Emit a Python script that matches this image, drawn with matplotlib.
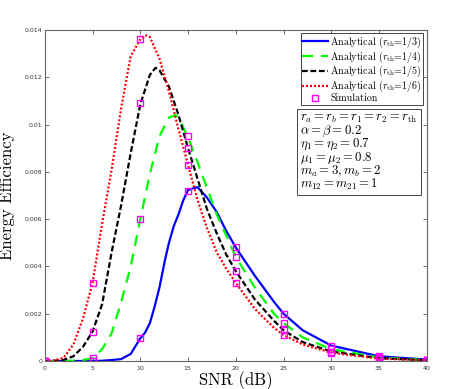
import matplotlib
matplotlib.use('Agg')
import matplotlib.pyplot as plt
import numpy as np

plt.rcParams['mathtext.fontset'] = 'cm'
plt.rcParams['axes.formatter.use_mathtext'] = True

# analytical curves
x_13 = [0, 5, 6, 7, 8, 9, 10, 10.5, 11, 11.5, 12, 12.6, 13, 13.5, 14, 14.5, 15, 15.5, 16, 17, 18,
        19, 20, 22, 24, 25, 27, 30, 35, 40]
y_13 = [0, 0, 0.00001, 0.00004, 0.00008, 0.0003, 0.00096, 0.0012, 0.0016, 0.0023, 0.0031, 0.0043,
        0.0050, 0.0057, 0.0062, 0.0068, 0.00723, 0.0073, 0.00735, 0.0069, 0.0063, 0.0055, 0.0048,
        0.0036, 0.0025, 0.0020, 0.0013, 0.00065, 0.0002, 0.00006]

x_14 = [0, 2, 3, 4, 5, 6, 7, 8, 9, 10, 11, 12, 13, 13.7, 14, 15, 16, 17, 18, 19, 20, 22, 24, 25,
        27, 30, 35, 40]
y_14 = [0, 0, 0.00001, 0.00004, 0.00012, 0.0005, 0.00117, 0.0025, 0.0040, 0.0060, 0.0079, 0.0095,
        0.0103, 0.0104, 0.0103, 0.00946, 0.0084, 0.0073, 0.0062, 0.0053, 0.0044, 0.0031, 0.0020,
        0.0016, 0.0010, 0.0005, 0.00015, 0.00004]

x_15 = [0, 1, 2, 3, 4, 5, 6, 7, 8, 9, 10, 11, 11.6, 12, 13, 14, 15, 16, 17, 18, 19, 20, 22, 24,
        25, 27, 30, 35, 40]
y_15 = [0, 0.00001, 0.00005, 0.0002, 0.0006, 0.00124, 0.0024, 0.0046, 0.0066, 0.0088, 0.01085,
        0.0121, 0.0124, 0.0123, 0.0116, 0.0104, 0.0090, 0.0077, 0.0064, 0.0054, 0.0045, 0.0038,
        0.0026, 0.0017, 0.0013, 0.0008, 0.0004, 0.00012, 0.00003]

x_16 = [0, 1, 2, 3, 4, 5, 6, 7, 8, 9, 10, 10.5, 11, 12, 13, 14, 15, 16, 17, 18, 19, 20, 22, 24,
        25, 27, 30, 35, 40]
y_16 = [0, 0.00002, 0.00015, 0.0007, 0.0018, 0.0033, 0.0058, 0.0081, 0.0107, 0.0129, 0.0136,
        0.01378, 0.0137, 0.0128, 0.0114, 0.0098, 0.0083, 0.0068, 0.0056, 0.0046, 0.0039, 0.0033,
        0.0022, 0.0014, 0.0011, 0.0007, 0.00035, 0.0001, 0.00003]

# simulation points
sim_x = [0, 5, 10, 15, 20, 25, 30, 35, 40]
sim_13 = [0, 0, 0.00096, 0.0072, 0.0048, 0.0020, 0.00065, 0.0002, 0.00005]
sim_14 = [0, 0.00012, 0.0060, 0.0095, 0.0044, 0.0016, 0.0005, 0.00015, 0.00004]
sim_15 = [0, 0.00124, 0.0109, 0.0090, 0.0038, 0.0013, 0.0004, 0.00012, 0.00003]
sim_16 = [0, 0.0033, 0.0136, 0.0083, 0.0033, 0.0011, 0.00035, 0.0001, 0.00003]

fig = plt.figure(figsize=(4.57, 3.89), dpi=100)
ax = fig.add_axes([0.098, 0.072, 0.836, 0.851])

ax.plot(x_13, y_13, color='#0000ff', lw=1.6, label=r'Analytical ($r_{\rm th}$=1/3)')
ax.plot(x_14, y_14, color='#00ff00', lw=1.6, dashes=(5, 3.5), label=r'Analytical ($r_{\rm th}$=1/4)')
ax.plot(x_15, y_15, color='black', lw=1.6, dashes=(2.6, 1.2), label=r'Analytical ($r_{\rm th}$=1/5)')
ax.plot(x_16, y_16, color='#ff0000', lw=1.6, dashes=(0.9, 0.9), label=r'Analytical ($r_{\rm th}$=1/6)')
ax.plot(sim_x * 4, sim_13 + sim_14 + sim_15 + sim_16, ls='none', marker='s', ms=4,
        mfc='none', mec='#ff00ff', mew=1.0, label='Simulation')

ax.set_xlim(0, 40)
ax.set_ylim(0, 0.014)
ax.set_xticks(np.arange(0, 41, 5))
ax.set_yticks(np.arange(0, 0.0141, 0.002))
ax.set_yticklabels(['0', '0.002', '0.004', '0.006', '0.008', '0.01', '0.012', '0.014'])
ax.tick_params(direction='in', top=True, right=True, labelsize=4.5, labelcolor='#333333',
               length=3, width=0.6, color='#555555', pad=2)
for s in ax.spines.values():
    s.set_color('#666666')
    s.set_linewidth(0.8)

ax.set_xlabel('SNR (dB)', fontfamily='cmr10', fontsize=12)
ax.set_ylabel('Energy Efficiency', fontfamily='cmr10', fontsize=12)
ax.xaxis.set_label_coords(0.5, -0.03)
ax.xaxis.label.set_va('top')
ax.yaxis.set_label_coords(-0.077, 0.5)

leg = ax.legend(loc='upper right', bbox_to_anchor=(0.995, 0.997), prop={'family': 'cmr10', 'size': 7.2},
                handlelength=2.6, handletextpad=0.2, labelspacing=-0.05, borderpad=0.15,
                borderaxespad=0.2, fancybox=False, edgecolor='#444444', framealpha=1)
leg.get_frame().set_linewidth(0.7)

params = '\n'.join([r'$r_a=r_b=r_1=r_2=r_{\rm th}$',
                    r'$\alpha=\beta=0.2$',
                    r'$\eta_1=\eta_2=0.7$',
                    r'$\mu_1=\mu_2=0.8$',
                    r'$m_a=3, m_b=2$',
                    r'$m_{12}=m_{21}=1$'])
ax.text(0.668, 0.752, params, transform=ax.transAxes, fontsize=9.2, va='top', ha='left',
        linespacing=0.8,
        bbox=dict(boxstyle='square,pad=0.25', facecolor='white', edgecolor='#444444', linewidth=0.7))

fig.savefig('out.png', dpi=100)
